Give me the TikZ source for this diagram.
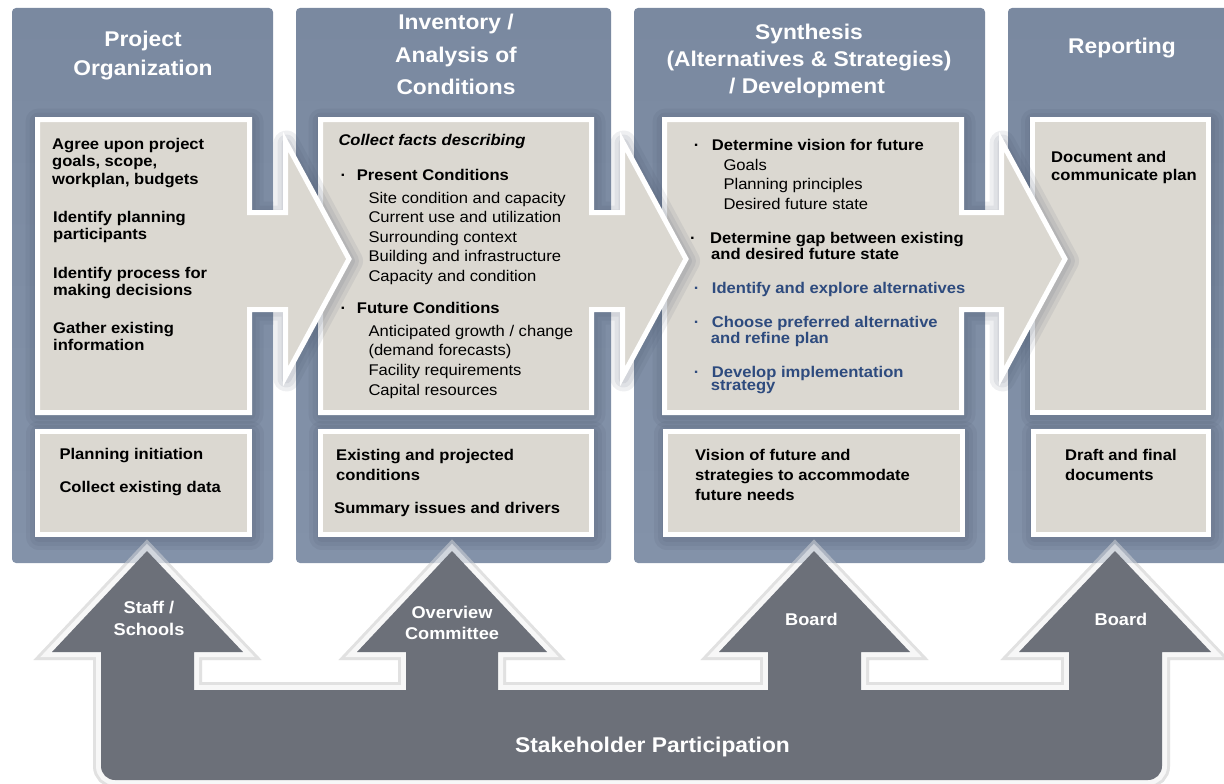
\documentclass[tikz,border=0pt]{standalone}
\usepackage{fontspec}
\setmainfont{Liberation Sans}[FakeStretch=1.07]
\definecolor{panelA}{HTML}{7A89A0}
\definecolor{panelB}{HTML}{8392A9}
\definecolor{cardfill}{HTML}{DBD8D1}
\definecolor{shadowc}{HTML}{3E4A60}
\definecolor{stakegray}{HTML}{6C7079}
\definecolor{halogray}{HTML}{E1E1E1}
\definecolor{itemblue}{HTML}{2E4B7E}
\begin{document}
\begin{tikzpicture}[x=1pt,y=-1pt,
  panel/.style={rounded corners=4pt, top color=panelA, bottom color=panelB, draw=none},
  card/.style={fill=cardfill, draw=white, line width=5pt, line join=miter},
  softshade/.style={draw=shadowc, line join=round, opacity=0.085},
  body/.style={inner sep=0pt, anchor=base west, text=black, font=\fontsize{15.5}{17}\selectfont\bfseries},
  plain/.style={body, font=\fontsize{15.5}{17}\selectfont},
  hint/.style={body, font=\fontsize{15.5}{17}\selectfont\bfseries\itshape},
  blueitem/.style={body, text=itemblue},
  dot/.style={inner sep=0pt, anchor=base, font=\fontsize{15.5}{17}\selectfont\bfseries},
  heading/.style={inner sep=0pt, anchor=base, text=white, font=\fontsize{21.3}{25}\selectfont\bfseries},
  tag/.style={inner sep=0pt, anchor=base, text=white, font=\fontsize{17}{20}\selectfont\bfseries},
  banner/.style={inner sep=0pt, anchor=base, text=white, font=\fontsize{21.3}{25}\selectfont\bfseries},
  haloout/.style={halogray, line width=16pt, line join=miter},
  haloin/.style={white, line width=10pt, line join=miter},
]
\useasboundingbox (0,0) rectangle (1224,784);
\clip (0,0) rectangle (1224,784);

% outlines of the cards (middle of the white border)
\def\shapeA{(37.5,119.5) -- (249.5,119.5) -- (249.5,212.5) -- (285.5,212.5) -- (285.5,141.5) -- (349,259) -- (285.5,376.5) -- (285.5,309.5) -- (249.5,309.5) -- (249.5,412.5) -- (37.5,412.5) -- cycle}
\def\shapeB{(320.5,119.5) -- (591.5,119.5) -- (591.5,212.5) -- (622.5,212.5) -- (622.5,141.5) -- (686,259) -- (622.5,376.5) -- (622.5,309.5) -- (591.5,309.5) -- (591.5,412.5) -- (320.5,412.5) -- cycle}
\def\shapeC{(664.5,119.5) -- (961.5,119.5) -- (961.5,212.5) -- (1001.5,212.5) -- (1001.5,141.5) -- (1065,259) -- (1001.5,376.5) -- (1001.5,309.5) -- (961.5,309.5) -- (961.5,412.5) -- (664.5,412.5) -- cycle}
\def\shapeD{(1032.5,119.5) rectangle (1208.5,412.5)}
\def\lowA{(37.5,431.5) rectangle (249.5,534.5)}
\def\lowB{(320.5,431.5) rectangle (591.5,534.5)}
\def\lowC{(665.5,431.5) rectangle (962.5,534.5)}
\def\lowD{(1033.5,431.5) rectangle (1208.5,534.5)}
% stakeholder arrow
\def\shapeS{(600,780) [rounded corners=14pt] -- (101,780) -- (101,720) [sharp corners] -- (101,652) -- (52,652) -- (147,551) -- (243,652) -- (194,652) -- (194,690) -- (406,690) -- (406,652) -- (357,652) -- (452,551) -- (547,652) -- (498,652) -- (498,690) -- (768,690) -- (768,652) -- (719,652) -- (814,551) -- (910,652) -- (861,652) -- (861,690) -- (1069,690) -- (1069,652) -- (1019,652) -- (1115,551) -- (1211,652) -- (1162,652) -- (1162,700) [rounded corners=14pt] -- (1162,780) -- cycle}

% halo of the stakeholder arrow, mostly hidden under the panels
\draw[haloout] \shapeS;
\draw[haloin] \shapeS;

% column panels
\path[panel] (12,8) rectangle (273,563);
\path[panel] (296,8) rectangle (611,563);
\path[panel] (634,8) rectangle (985,563);
\path[panel] (1008,8) rectangle (1234,563);

% lower cards
\foreach \w in {26,18,10}{
  \draw[softshade, line width=\w pt, shift={(1,2)}] \lowA;
  \draw[softshade, line width=\w pt, shift={(1,2)}] \lowB;
  \draw[softshade, line width=\w pt, shift={(1,2)}] \lowC;
  \draw[softshade, line width=\w pt, shift={(1,2)}] \lowD;
}
\path[card] \lowA;
\path[card] \lowB;
\path[card] \lowC;
\path[card] \lowD;

% upper cards with the process arrows, back to front
\foreach \w in {26,18,10}{\draw[softshade, line width=\w pt, shift={(1,2)}] \shapeD;}
\path[card] \shapeD;
\foreach \w in {26,18,10}{\draw[softshade, line width=\w pt, shift={(1,2)}] \shapeC;}
\path[card] \shapeC;
\foreach \w in {26,18,10}{\draw[softshade, line width=\w pt, shift={(1,2)}] \shapeB;}
\path[card] \shapeB;
\foreach \w in {26,18,10}{\draw[softshade, line width=\w pt, shift={(1,2)}] \shapeA;}
\path[card] \shapeA;

% column headings
\node[heading] (h1a) at (143,47) {Project};
\node[heading] (h1b) at (143,76) {Organization};
\node[heading] (h2a) at (456,30) {Inventory /};
\node[heading] (h2b) at (456,63) {Analysis of};
\node[heading] (h2c) at (456,95) {Conditions};
\node[heading] (h3a) at (809,39.3) {Synthesis};
\node[heading] (h3b) at (809,66.7) {(Alternatives \& Strategies)};
\node[heading] (h3c) at (807,93.3) {/ Development};
\node[heading] (h4a) at (1122,53.3) {Reporting};

% column 1
\node[body] (a1) at (52,149) {Agree upon project};
\node[body] (a2) at (52,166.5) {goals, scope,};
\node[body] (a3) at (52,184) {workplan, budgets};
\node[body] (a4) at (53,222.7) {Identify planning};
\node[body] (a5) at (53,239.3) {participants};
\node[body] (a6) at (53,278.3) {Identify process for};
\node[body] (a7) at (53,295.7) {making decisions};
\node[body] (a8) at (53,333.3) {Gather existing};
\node[body] (a9) at (53,350) {information};
\node[body] (a10) at (59.3,459.3) {Planning initiation};
\node[body] (a11) at (59.3,492.7) {Collect existing data};

% column 2
\node[hint] (b0) at (338.3,145) {Collect facts describing};
\node[dot] (b1d) at (343.3,180.7) {·};
\node[body] (b1) at (356.7,180.7) {Present Conditions};
\node[plain] (b2) at (368.3,203.3) {Site condition and capacity};
\node[plain] (b3) at (368.3,222.7) {Current use and utilization};
\node[plain] (b4) at (368.3,242.3) {Surrounding context};
\node[plain] (b5) at (368.3,261.7) {Building and infrastructure};
\node[plain] (b6) at (368.3,281.7) {Capacity and condition};
\node[dot] (b7d) at (343.3,313.3) {·};
\node[body] (b7) at (356.7,313.3) {Future Conditions};
\node[plain] (b8) at (368.3,336) {Anticipated growth / change};
\node[plain] (b9) at (368.3,355.7) {(demand forecasts)};
\node[plain] (b10) at (368.3,375) {Facility requirements};
\node[plain] (b11) at (368.3,395) {Capital resources};
\node[body] (b12) at (336,460) {Existing and projected};
\node[body] (b13) at (336,480) {conditions};
\node[body] (b14) at (334,513) {Summary issues and drivers};

% column 3
\node[dot] (c1d) at (696.7,150) {·};
\node[body] (c1) at (711.7,150) {Determine vision for future};
\node[plain] (c2) at (723.3,170) {Goals};
\node[plain] (c3) at (723.3,189.3) {Planning principles};
\node[plain] (c4) at (723.3,209) {Desired future state};
\node[dot] (c5d) at (693,243.3) {·};
\node[body] (c5) at (710,243.3) {Determine gap between existing};
\node[body] (c6) at (711,259.3) {and desired future state};
\node[dot, text=itemblue] (c7d) at (696.7,293.3) {·};
\node[blueitem] (c7) at (711.7,293.3) {Identify and explore alternatives};
\node[dot, text=itemblue] (c8d) at (696.7,327.3) {·};
\node[blueitem] (c8) at (711.7,327.3) {Choose preferred alternative};
\node[blueitem] (c9) at (710.7,343.3) {and refine plan};
\node[dot, text=itemblue] (c10d) at (696.7,377.3) {·};
\node[blueitem] (c10) at (711.7,377.3) {Develop implementation};
\node[blueitem] (c11) at (710.7,390.7) {strategy};
\node[body] (c12) at (695,460) {Vision of future and};
\node[body] (c13) at (695,480) {strategies to accommodate};
\node[body] (c14) at (695,500) {future needs};

% column 4
\node[body] (d1) at (1051,162) {Document and};
\node[body] (d2) at (1051,180) {communicate plan};
\node[body] (d3) at (1065,460) {Draft and final};
\node[body] (d4) at (1065,480) {documents};

% stakeholder participation arrow: faint halo over the panels, then the fill
\draw[haloout, opacity=0.45] \shapeS;
\draw[haloin, opacity=0.45] \shapeS;
\fill[stakegray] \shapeS;

\node[tag] (s1a) at (149,613.3) {Staff /};
\node[tag] (s1b) at (149,635.7) {Schools};
\node[tag] (s2a) at (452,618.3) {Overview};
\node[tag] (s2b) at (452,639) {Committee};
\node[tag] (s3) at (811.5,625.7) {Board};
\node[tag] (s4) at (1121,625.7) {Board};
\node[banner] (sp) at (652.5,752) {Stakeholder Participation};
\end{tikzpicture}
\end{document}
